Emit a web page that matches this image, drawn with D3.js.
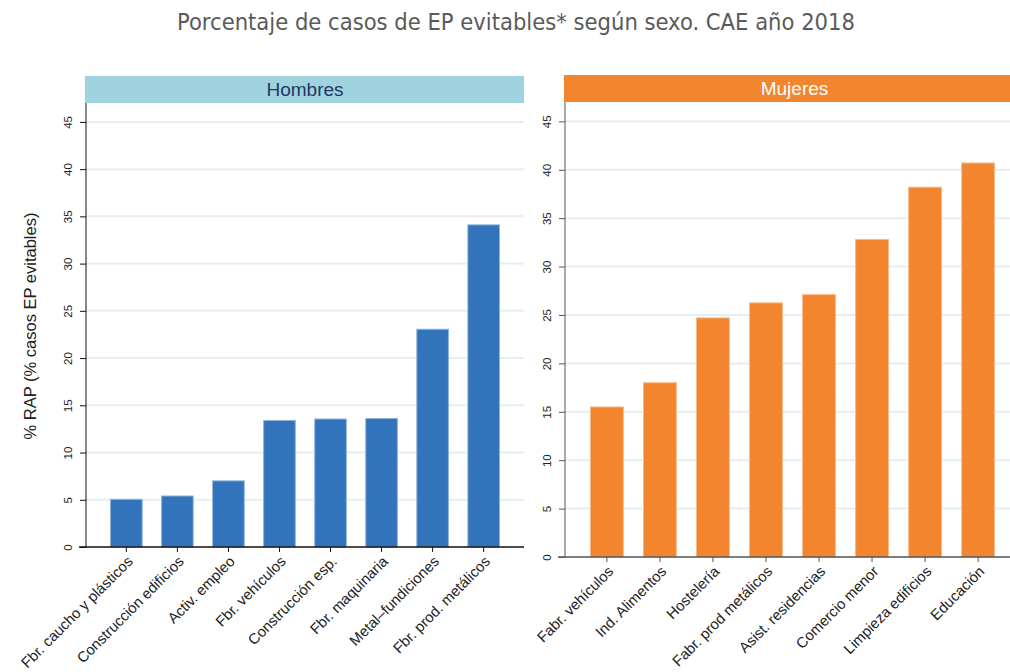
<!DOCTYPE html>
<html>
<head>
<meta charset="utf-8">
<script src="https://cdn.jsdelivr.net/npm/d3@7"></script>
<style>
  body { margin: 0; background: #fff; }
  svg { display: block; }
</style>
</head>
<body>
<div id="chart"></div>
<script>
// Data
const menCategories = ["Fbr. caucho y plásticos", "Construcción edificios", "Activ. empleo", "Fbr. vehículos",
  "Construcción esp.", "Fbr. maquinaria", "Metal–fundiciones", "Fbr. prod. metálicos"];
const menValues = [5.05, 5.4, 7.0, 13.4, 13.55, 13.6, 23.05, 34.1];

const womenCategories = ["Fabr. vehículos", "Ind. Alimentos", "Hostelería", "Fabr. prod metálicos",
  "Asist. residencias", "Comercio menor", "Limpieza edificios", "Educación"];
const womenValues = [15.5, 18.0, 24.7, 26.25, 27.1, 32.8, 38.2, 40.7];

const yTicks = [0, 5, 10, 15, 20, 25, 30, 35, 40, 45];

const width = 1010, height = 672;

const svg = d3.select("#chart").append("svg")
  .attr("width", width)
  .attr("height", height);

// Title
svg.append("text")
  .attr("x", 516)
  .attr("y", 30)
  .attr("text-anchor", "middle")
  .style("font-family", "'DejaVu Sans Condensed', 'Liberation Sans Narrow', sans-serif")
  .style("font-size", "23.5px")
  .style("fill", "#5a5a5a")
  .text("Porcentaje de casos de EP evitables* según sexo. CAE año 2018");

// Y label
svg.append("text")
  .attr("transform", "translate(36,326) rotate(-90)")
  .attr("text-anchor", "middle")
  .style("font-family", "'Liberation Sans', Arial, sans-serif")
  .style("font-size", "16.5px")
  .style("fill", "#222")
  .text("% RAP (% casos EP evitables)");

// draws one panel (header strip, grid, bars, axes)
function drawPanel(opts) {
  const x = d3.scaleBand()
    .domain(opts.categories)
    .range([opts.left, opts.right])
    .paddingInner(0.38)
    .paddingOuter(0.48);

  const y = d3.scaleLinear()
    .domain([0, 47])
    .range([opts.bottom, opts.top]);

  const g = svg.append("g");

  // header strip
  g.append("rect")
    .attr("x", opts.left - 1)
    .attr("y", opts.top - 27)
    .attr("width", opts.right - opts.left + 1)
    .attr("height", 27)
    .attr("fill", opts.headerFill);

  g.append("text")
    .attr("x", (opts.left + Math.min(opts.right, width)) / 2 + opts.titleShift)
    .attr("y", opts.top - 7)
    .attr("text-anchor", "middle")
    .style("font-family", "'Liberation Sans', Arial, sans-serif")
    .style("font-size", "19px")
    .style("fill", opts.headerText)
    .text(opts.title);

  // grid lines
  g.append("g")
    .selectAll("line")
    .data(yTicks.filter(d => d > 0))
    .join("line")
      .attr("x1", opts.left)
      .attr("x2", opts.right)
      .attr("y1", d => y(d))
      .attr("y2", d => y(d))
      .attr("stroke", "#e3f0f1")
      .attr("stroke-width", 2);

  // bars
  g.append("g")
    .selectAll("rect")
    .data(opts.values)
    .join("rect")
      .attr("x", (d, i) => x(opts.categories[i]))
      .attr("y", d => y(d))
      .attr("width", x.bandwidth())
      .attr("height", d => y(0) - y(d))
      .attr("fill", opts.barFill)
      .attr("stroke", opts.barStroke)
      .attr("stroke-width", 1);

  // y axis
  const yAxis = g.append("g")
    .attr("transform", `translate(${opts.left},0)`)
    .call(d3.axisLeft(y).tickValues(yTicks).tickSize(6).tickPadding(4));
  yAxis.select(".domain")
    .attr("d", `M0,${opts.top}V${opts.bottom}`)
    .attr("stroke", opts.axisColor);
  yAxis.selectAll(".tick line").attr("stroke", opts.axisColor);
  yAxis.selectAll(".tick text")
    .attr("transform", "rotate(-90)")
    .attr("x", 0)
    .attr("y", -14)
    .attr("dy", 0)
    .attr("text-anchor", "middle")
    .style("font-family", "'Liberation Sans', Arial, sans-serif")
    .style("font-size", "11.5px")
    .style("fill", "#222");

  // x axis
  const xAxis = g.append("g")
    .attr("transform", `translate(0,${opts.bottom})`)
    .call(d3.axisBottom(x).tickSize(5).tickSizeOuter(0));
  xAxis.select(".domain")
    .attr("d", `M${opts.left - 7},0H${opts.right}`)
    .attr("stroke", opts.axisColor)
    .attr("stroke-width", 1.3);
  xAxis.selectAll(".tick line").attr("stroke", opts.axisColor);
  xAxis.selectAll(".tick text")
    .attr("transform", "translate(0,8) rotate(-45)")
    .attr("x", 0)
    .attr("y", 0)
    .attr("dy", "0.7em")
    .attr("text-anchor", "end")
    .style("font-family", "'Liberation Sans', Arial, sans-serif")
    .style("font-size", "14.8px")
    .style("fill", "#222");
}

drawPanel({
  categories: menCategories,
  values: menValues,
  left: 86, right: 524, top: 103, bottom: 547,
  title: "Hombres", titleShift: 0,
  headerFill: "#9fd3e0", headerText: "#1f3864",
  barFill: "#3274bc", barStroke: "#8fb4dd",
  axisColor: "#111"
});

drawPanel({
  categories: womenCategories,
  values: womenValues,
  left: 565, right: 1020, top: 102, bottom: 557,
  title: "Mujeres", titleShift: 7,
  headerFill: "#f3852f", headerText: "#fff",
  barFill: "#f3852f", barStroke: "#f8b98a",
  axisColor: "#555"
});
</script>
</body>
</html>
